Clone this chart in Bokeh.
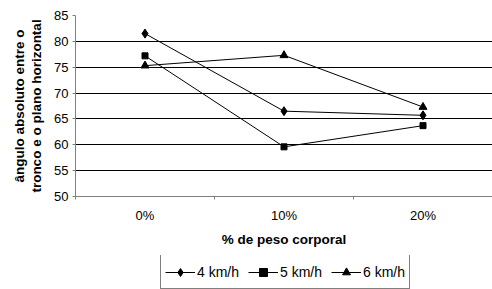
from bokeh.plotting import figure
from bokeh.layouts import column
from bokeh.models import FixedTicker, Legend, LegendItem, Range1d
from bokeh.embed import file_html
from bokeh.resources import INLINE

categories = ["0%", "10%", "20%"]
speed_4 = [81.5, 66.5, 65.7]
speed_5 = [77.2, 59.6, 63.7]
speed_6 = [75.3, 77.3, 67.3]
series_names = ["4 km/h", "5 km/h", "6 km/h"]
y_ticks = [50, 55, 60, 65, 70, 75, 80, 85]

xs = [i + 0.5 for i in range(len(categories))]
FONT = "Liberation Sans"
series = [speed_4, speed_5, speed_6]
styles = [dict(marker="diamond", size=9),
          dict(marker="square", size=6),
          dict(marker="triangle", size=8)]

p = figure(width=492, height=255,
           output_backend="svg", toolbar_location=None,
           x_range=Range1d(0, len(categories)), y_range=Range1d(y_ticks[0], y_ticks[-1]),
           min_border_left=75, min_border_top=15, min_border_right=0, min_border_bottom=59)
p.outline_line_color = None
p.background_fill_color = "white"
p.border_fill_color = "white"

# grid
p.xgrid.grid_line_color = None
p.ygrid.grid_line_color = "#000000"
p.ygrid.grid_line_width = 1
p.ygrid.ticker = FixedTicker(ticks=y_ticks)

# x axis
p.xaxis.ticker = FixedTicker(ticks=xs, minor_ticks=list(range(len(categories) + 1)))
p.xaxis.major_label_overrides = {x: c for x, c in zip(xs, categories)}
p.xaxis.major_tick_out = 0
p.xaxis.major_tick_in = 0
p.xaxis.minor_tick_out = 3
p.xaxis.minor_tick_in = 0
p.xaxis.minor_tick_line_color = "#808080"
p.xaxis.axis_line_color = "#808080"
p.xaxis.major_label_standoff = 8
p.xaxis.major_label_text_font = FONT
p.xaxis.major_label_text_font_size = "13px"
p.xaxis.major_label_text_color = "black"
p.xaxis.axis_label = "% de peso corporal"
p.xaxis.axis_label_text_font = FONT
p.xaxis.axis_label_text_font_size = "13.5px"
p.xaxis.axis_label_text_font_style = "bold"
p.xaxis.axis_label_text_color = "black"
p.xaxis.axis_label_standoff = 6

# y axis
p.yaxis.ticker = FixedTicker(ticks=y_ticks)
p.yaxis.major_tick_out = 3
p.yaxis.major_tick_in = 0
p.yaxis.minor_tick_line_color = None
p.yaxis.major_tick_line_color = "#808080"
p.yaxis.axis_line_color = "#808080"
p.yaxis.major_label_standoff = 4
p.yaxis.major_label_text_font = FONT
p.yaxis.major_label_text_font_size = "13px"
p.yaxis.major_label_text_color = "black"
p.yaxis.axis_label = "ângulo absoluto entre o\ntronco e o plano horizontal"
p.yaxis.axis_label_text_font = FONT
p.yaxis.axis_label_text_font_size = "13.5px"
p.yaxis.axis_label_text_font_style = "bold"
p.yaxis.axis_label_text_color = "black"
p.yaxis.axis_label_text_line_height = 1.15
p.yaxis.axis_label_standoff = 7

# series
for vals, st in zip(series, styles):
    p.line(xs, vals, line_color="black", line_width=1)
    p.scatter(xs, vals, color="black", **st)

# legend strip below the chart (its renderers lie outside its view)
lf = figure(width=492, height=34, output_backend="svg", toolbar_location=None,
            x_axis_location=None, y_axis_location=None,
            x_range=Range1d(0, 1), y_range=Range1d(0, 1),
            min_border_left=0, min_border_right=0, min_border_top=0, min_border_bottom=0)
lf.outline_line_color = None
lf.xgrid.grid_line_color = None
lf.ygrid.grid_line_color = None
lf.border_fill_color = "white"
lf.background_fill_color = "white"
items = []
for name, vals, st in zip(series_names, series, styles):
    ln = lf.line(xs, vals, line_color="black", line_width=1)
    mk = lf.scatter(xs, vals, color="black", **st)
    items.append(LegendItem(label=name, renderers=[ln, mk]))

legend = Legend(items=items, orientation="horizontal", location=(85, 0),
                padding=4, spacing=9, glyph_width=30, glyph_height=20,
                label_height=25, label_standoff=2, margin=0,
                border_line_color="black", border_line_width=1,
                background_fill_color="white", background_fill_alpha=1,
                label_text_font=FONT, label_text_font_size="14px",
                label_text_color="black")
lf.add_layout(legend, "center")

open("out.html", "w").write(file_html(column(p, lf, spacing=0), INLINE))
